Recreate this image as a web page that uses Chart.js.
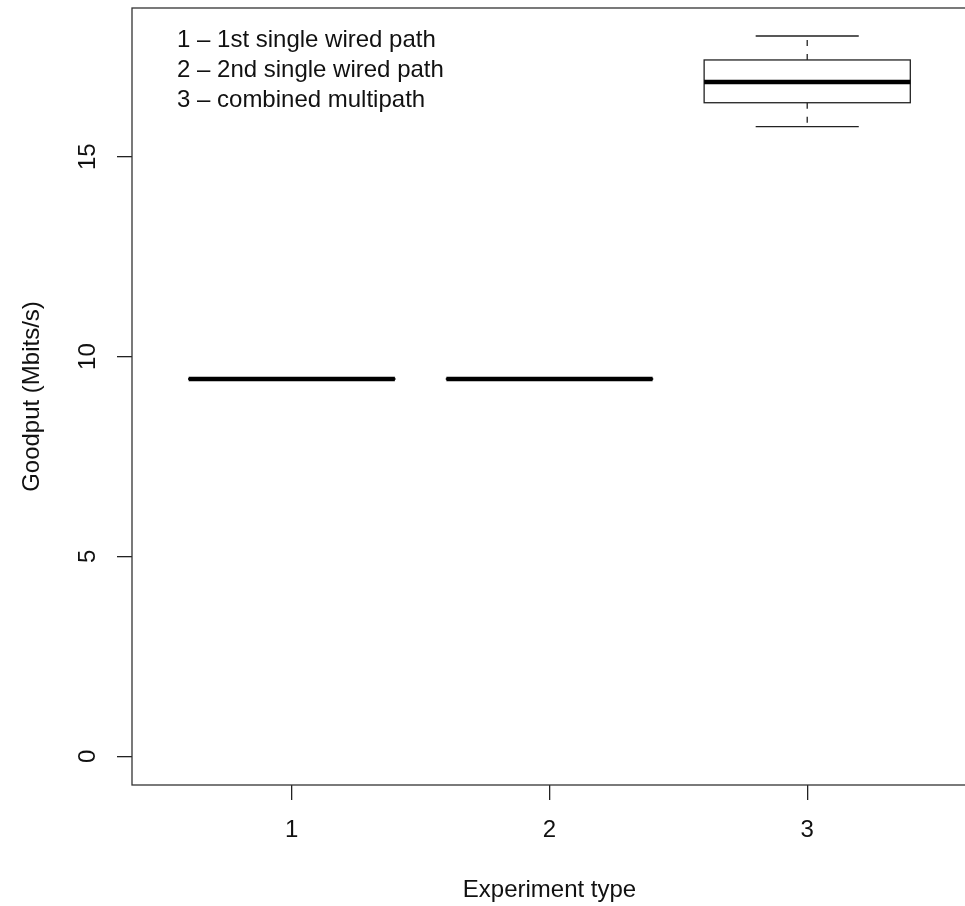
<!DOCTYPE html>
<html>
<head>
<meta charset="utf-8">
<script src="https://cdn.jsdelivr.net/npm/chart.js@4"></script>
<style>
  html, body { margin: 0; padding: 0; background: #fff; overflow: hidden; }
  #boxChart { display: block; }
</style>
</head>
<body>
<canvas id="boxChart" width="968" height="906"></canvas>
<script>
// experiment types on the x axis
const categories = ["1", "2", "3"];
// box statistics per type (Mbits/s)
const lowWhisker = [9.41, 9.41, 15.75];
const q1 = [9.43, 9.43, 16.35];
const medians = [9.44, 9.44, 16.87];
const q3 = [9.45, 9.45, 17.42];
const highWhisker = [9.47, 9.47, 18.02];
const yTickValues = [0, 5, 10, 15];
const legendLines = ["1 \u2013 1st single wired path", "2 \u2013 2nd single wired path", "3 \u2013 combined multipath"];

const FONT = "'Liberation Sans', Arial, Helvetica, sans-serif";
const INK = "#111";

const boxPlugin = {
  id: "boxes",
  afterDatasetsDraw(chart) {
    const { ctx, chartArea } = chart;
    const xs = chart.scales.x;
    const ys = chart.scales.y;
    ctx.save();
    // plot frame
    ctx.strokeStyle = "#333";
    ctx.lineWidth = 1.3;
    ctx.strokeRect(chartArea.left, chartArea.top, chartArea.right - chartArea.left, chartArea.bottom - chartArea.top);

    categories.forEach((c, i) => {
      const cx = xs.getPixelForValue(i + 1);
      const half = xs.getPixelForValue(i + 1.4) - cx;
      const cap = xs.getPixelForValue(i + 1.2) - cx;
      const yLo = ys.getPixelForValue(lowWhisker[i]);
      const yQ1 = ys.getPixelForValue(q1[i]);
      const yMed = ys.getPixelForValue(medians[i]);
      const yQ3 = ys.getPixelForValue(q3[i]);
      const yHi = ys.getPixelForValue(highWhisker[i]);

      ctx.strokeStyle = "#222";
      ctx.lineWidth = 1.3;
      // dashed whiskers
      ctx.setLineDash([6, 8]);
      ctx.beginPath();
      ctx.moveTo(cx, yQ3); ctx.lineTo(cx, yHi);
      ctx.moveTo(cx, yQ1); ctx.lineTo(cx, yLo);
      ctx.stroke();
      ctx.setLineDash([]);
      // caps
      ctx.beginPath();
      ctx.moveTo(cx - cap, yHi); ctx.lineTo(cx + cap, yHi);
      ctx.moveTo(cx - cap, yLo); ctx.lineTo(cx + cap, yLo);
      ctx.stroke();
      // box
      ctx.fillStyle = "#fff";
      ctx.fillRect(cx - half, yQ3, 2 * half, yQ1 - yQ3);
      ctx.strokeRect(cx - half, yQ3, 2 * half, yQ1 - yQ3);
      // median
      ctx.strokeStyle = "#000";
      ctx.lineWidth = 4.5;
      ctx.beginPath();
      ctx.moveTo(cx - half, yMed); ctx.lineTo(cx + half, yMed);
      ctx.stroke();
    });

    // legend text (no symbols)
    ctx.fillStyle = INK;
    ctx.font = "24px " + FONT;
    ctx.textAlign = "left";
    ctx.textBaseline = "alphabetic";
    legendLines.forEach((t, k) => ctx.fillText(t, 177, 47 + k * 30));
    ctx.restore();
  }
};

new Chart(document.getElementById("boxChart"), {
  type: "scatter",
  data: {
    datasets: [{
      label: "median",
      data: medians.map((m, i) => ({ x: i + 1, y: m })),
      pointRadius: 0,
      showLine: false
    }]
  },
  options: {
    responsive: false,
    animation: false,
    layout: { padding: { top: 8, right: 1, left: 0, bottom: 0 } },
    plugins: { legend: { display: false }, tooltip: { enabled: false } },
    scales: {
      x: {
        type: "linear",
        min: 0.38,
        max: 3.62,
        afterBuildTicks: (axis) => { axis.ticks = categories.map((c, i) => ({ value: i + 1 })); },
        afterFit: (axis) => { axis.height = 121; axis.paddingLeft = 0; axis.paddingRight = 0; },
        grid: { display: true, drawOnChartArea: false, drawTicks: true, tickLength: 15, color: "#222", lineWidth: 1.3 },
        border: { display: false },
        ticks: {
          padding: 16,
          color: INK,
          font: { family: FONT, size: 24 },
          maxRotation: 0,
          callback: (v) => categories[Math.round(v) - 1]
        },
        title: { display: true, text: "Experiment type", color: INK, font: { family: FONT, size: 24 }, padding: { top: 0, bottom: 1 } }
      },
      y: {
        min: -0.72,
        max: 18.72,
        afterBuildTicks: (axis) => { axis.ticks = yTickValues.map(v => ({ value: v })); },
        afterFit: (axis) => { axis.width = 132; axis.paddingTop = 0; axis.paddingBottom = 0; },
        grid: { display: true, drawOnChartArea: false, drawTicks: true, tickLength: 15, color: "#222", lineWidth: 1.3 },
        border: { display: false },
        ticks: {
          padding: 15,
          minRotation: 90,
          maxRotation: 90,
          crossAlign: "center",
          color: INK,
          font: { family: FONT, size: 24 }
        },
        title: { display: true, text: "Goodput (Mbits/s)", color: INK, font: { family: FONT, size: 24 }, padding: { top: 18, bottom: 0 } }
      }
    }
  },
  plugins: [boxPlugin]
});
</script>
</body>
</html>
